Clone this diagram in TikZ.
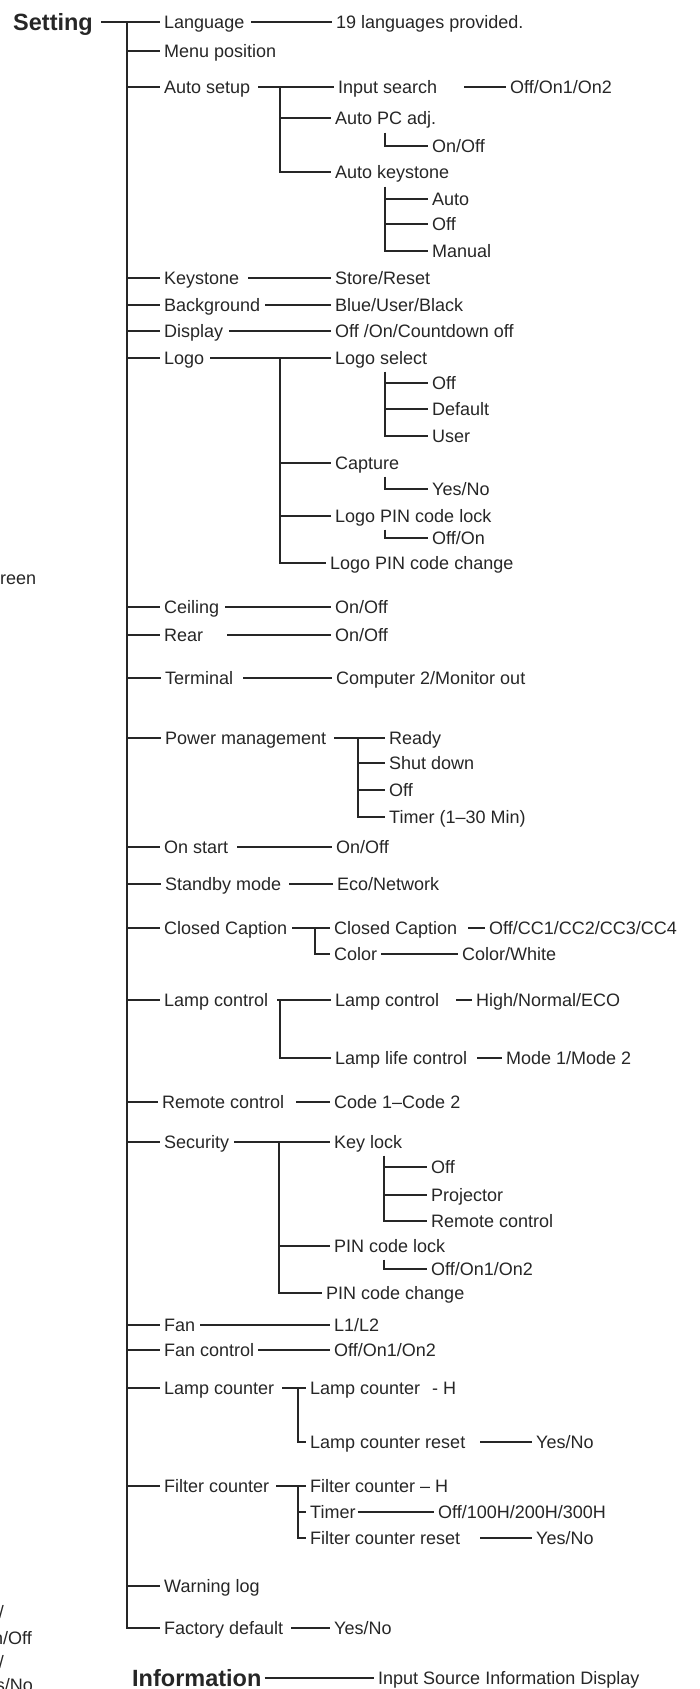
\documentclass[tikz,border=0pt]{standalone}
\usepackage{fontspec}
\setmainfont{Liberation Sans}
\usetikzlibrary{positioning, calc}

\begin{document}
\begin{tikzpicture}[
    x=1pt, y=-1pt,
    font=\fontsize{18}{20}\selectfont,
    color=black!85,
    item/.style={anchor=west, inner xsep=0pt, inner ysep=0pt, text height=12.9pt, text depth=0pt},
    head/.style={item, font=\fontsize{23.5}{26}\selectfont\bfseries, text height=16.8pt},
    cut/.style={anchor=east, inner sep=0pt, text height=12.9pt, text depth=0pt},
    line/.style={draw=black!85, line width=1.1pt, shorten >=4pt}
]
\useasboundingbox (0,0) rectangle (700,1689);

% Setting (root)
\node[head] (set) at (13,22) {Setting};
\coordinate (trunk) at (127,22);

% Language / Menu position
\node[item] (lang) at (164,22) {Language};
\node[item] (langv) at (336,22) {19 languages provided.};
\node[item] (menu) at (164,51) {Menu position};

% Auto setup
\node[item] (auto) at (164,87) {Auto setup};
\node[item] (insrch) at (338,87) {Input search};
\node[item] (insrchv) at (510,87) {Off/On1/On2};
\node[item] (apc) at (335,118) {Auto PC adj.};
\node[item] (apcv) at (432,146) {On/Off};
\node[item] (aks) at (335,172) {Auto keystone};
\node[item] (aksa) at (432,199) {Auto};
\node[item] (akso) at (432,224) {Off};
\node[item] (aksm) at (432,251) {Manual};

% Keystone .. Display
\node[item] (key) at (164,278) {Keystone};
\node[item] (keyv) at (335,278) {Store/Reset};
\node[item] (bg) at (164,305) {Background};
\node[item] (bgv) at (335,305) {Blue/User/Black};
\node[item] (disp) at (164,331) {Display};
\node[item] (dispv) at (335,331) {Off /On/Countdown off};

% Logo
\node[item] (logo) at (164,358) {Logo};
\node[item] (lsel) at (335,358) {Logo select};
\node[item] (lselo) at (432,383) {Off};
\node[item] (lseld) at (432,409) {Default};
\node[item] (lselu) at (432,436) {User};
\node[item] (cap) at (335,463) {Capture};
\node[item] (capv) at (432,489) {Yes/No};
\node[item] (lpin) at (335,516) {Logo PIN code lock};
\node[item] (lpinv) at (432,538) {Off/On};
\node[item] (lpinc) at (330,563) {Logo PIN code change};

% Ceiling .. Terminal
\node[item] (ceil) at (164,607) {Ceiling};
\node[item] (ceilv) at (335,607) {On/Off};
\node[item] (rear) at (164,635) {Rear};
\node[item] (rearv) at (335,635) {On/Off};
\node[item] (term) at (165,678) {Terminal};
\node[item] (termv) at (336,678) {Computer 2/Monitor out};

% Power management
\node[item] (pwr) at (165,738) {Power management};
\node[item] (pwra) at (389,738) {Ready};
\node[item] (pwrb) at (389,763) {Shut down};
\node[item] (pwrc) at (389,790) {Off};
\node[item] (pwrd) at (389,817) {Timer (1–30 Min)};

% On start / Standby mode
\node[item] (onst) at (164,847) {On start};
\node[item] (onstv) at (336,847) {On/Off};
\node[item] (stby) at (165,884) {Standby mode};
\node[item] (stbyv) at (337,884) {Eco/Network};

% Closed Caption
\node[item] (cc) at (164,928) {Closed Caption};
\node[item] (ccs) at (334,928) {Closed Caption};
\node[item] (ccsv) at (489,928) {Off/CC1/CC2/CC3/CC4};
\node[item] (ccc) at (334,954) {Color};
\node[item] (cccv) at (462,954) {Color/White};

% Lamp control
\node[item] (lamp) at (164,1000) {Lamp control};
\node[item] (lamps) at (335,1000) {Lamp control};
\node[item] (lampsv) at (476,1000) {High/Normal/ECO};
\node[item] (lampl) at (335,1058) {Lamp life control};
\node[item] (lamplv) at (506,1058) {Mode 1/Mode 2};

% Remote control
\node[item] (rem) at (162,1102) {Remote control};
\node[item] (remv) at (334,1102) {Code 1–Code 2};

% Security
\node[item] (sec) at (164,1142) {Security};
\node[item] (klock) at (334,1142) {Key lock};
\node[item] (klocka) at (431,1167) {Off};
\node[item] (klockb) at (431,1195) {Projector};
\node[item] (klockc) at (431,1221) {Remote control};
\node[item] (pin) at (334,1246) {PIN code lock};
\node[item] (pinv) at (431,1269) {Off/On1/On2};
\node[item] (pinc) at (326,1293) {PIN code change};

% Fan
\node[item] (fan) at (164,1325) {Fan};
\node[item] (fanv) at (334,1325) {L1/L2};
\node[item] (fanc) at (164,1350) {Fan control};
\node[item] (fancv) at (334,1350) {Off/On1/On2};

% Lamp counter
\node[item] (lcnt) at (164,1388) {Lamp counter};
\node[item] (lcnth) at (310,1388) {Lamp counter\hspace{12pt}- H};
\node[item] (lcntr) at (310,1442) {Lamp counter reset};
\node[item] (lcntrv) at (536,1442) {Yes/No};

% Filter counter
\node[item] (fcnt) at (164,1486) {Filter counter};
\node[item] (fcnth) at (310,1486) {Filter counter – H};
\node[item] (ftmr) at (310,1512) {Timer};
\node[item] (ftmrv) at (438,1512) {Off/100H/200H/300H};
\node[item] (fcntr) at (310,1538) {Filter counter reset};
\node[item] (fcntrv) at (536,1538) {Yes/No};

% Warning log / Factory default
\node[item] (warn) at (164,1586) {Warning log};
\node[item] (fact) at (164,1628) {Factory default};
\node[item] (factv) at (334,1628) {Yes/No};

% Information
\node[head] (info) at (132,1678) {Information};
\node[item] (infov) at (378,1678) {Input Source Information Display};

% cut-off text of the next column
\node[item] (frag1) at (0,578) {reen};
\node[cut] (frag2) at (4,1612) {/};
\node[cut] (frag3) at (32,1638) {n/Off};
\node[cut] (frag4) at (4,1662) {/};
\node[cut] (frag5) at (33,1685) {s/No};

% Main trunk
\draw[line] ([xshift=8]set.east) -- (lang.west);
\draw[line] (trunk) |- (fact.west);
\foreach \n in {menu, auto, key, bg, disp, logo, ceil, rear, term, pwr, onst,
                stby, cc, lamp, rem, sec, fan, fanc, lcnt, fcnt, warn}
  \draw[line] (trunk |- \n.west) -- (\n.west);

% Sub-trunks
\coordinate (autot) at (280,87);
\coordinate (logot) at (280,358);
\coordinate (pwrt) at (358,738);
\coordinate (cct) at (315,928);
\coordinate (lampt) at (280,1000);
\coordinate (sect) at (279,1142);
\coordinate (lcntt) at (298,1388);
\coordinate (fcntt) at (298,1486);

% Hooks below an item
\coordinate (aksv) at ([xshift=50,yshift=-8]aks.south west);
\coordinate (lselv) at ([xshift=50,yshift=-7]lsel.south west);
\coordinate (klockv) at ([xshift=50,yshift=-7]klock.south west);

% Language
\draw[line] ([xshift=7]lang.east) -- (langv.west);

% Auto setup
\draw[line] ([xshift=8]auto.east) -- (insrch.west);
\draw[line] (autot) |- (aks.west);
\draw[line] (autot |- apc.west) -- (apc.west);
\draw[line] ([xshift=27]insrch.east) -- (insrchv.west);
\draw[line] ([xshift=50,yshift=-8]apc.south west) |- (apcv.west);
\draw[line] (aksv) |- (aksm.west);
\foreach \n in {aksa, akso}
  \draw[line] (aksv |- \n.west) -- (\n.west);

% Keystone .. Display
\draw[line] ([xshift=9]key.east) -- (keyv.west);
\draw[line] ([xshift=5]bg.east) -- (bgv.west);
\draw[line] ([xshift=6]disp.east) -- (dispv.west);

% Logo
\draw[line] ([xshift=6]logo.east) -- (lsel.west);
\draw[line] (logot) |- (lpinc.west);
\foreach \n in {cap, lpin}
  \draw[line] (logot |- \n.west) -- (\n.west);
\draw[line] (lselv) |- (lselu.west);
\foreach \n in {lselo, lseld}
  \draw[line] (lselv |- \n.west) -- (\n.west);
\draw[line] ([xshift=50,yshift=-7]cap.south west) |- (capv.west);
\draw[line] ([xshift=50,yshift=-7]lpin.south west) |- (lpinv.west);

% Ceiling .. Terminal
\draw[line] ([xshift=6]ceil.east) -- (ceilv.west);
\draw[line] ([xshift=24]rear.east) -- (rearv.west);
\draw[line] ([xshift=10]term.east) -- (termv.west);

% Power management
\draw[line] ([xshift=8]pwr.east) -- (pwra.west);
\draw[line] (pwrt) |- (pwrd.west);
\foreach \n in {pwrb, pwrc}
  \draw[line] (pwrt |- \n.west) -- (\n.west);

% On start / Standby mode
\draw[line] ([xshift=9]onst.east) -- (onstv.west);
\draw[line] ([xshift=8]stby.east) -- (stbyv.west);

% Closed Caption
\draw[line] ([xshift=5]cc.east) -- (ccs.west);
\draw[line] (cct) |- (ccc.west);
\draw[line] ([xshift=11]ccs.east) -- (ccsv.west);
\draw[line] ([xshift=4]ccc.east) -- (cccv.west);

% Lamp control
\draw[line] ([xshift=9]lamp.east) -- (lamps.west);
\draw[line] (lampt) |- (lampl.west);
\draw[line] ([xshift=17]lamps.east) -- (lampsv.west);
\draw[line] ([xshift=10]lampl.east) -- (lamplv.west);

% Remote control
\draw[line] ([xshift=12]rem.east) -- (remv.west);

% Security
\draw[line] ([xshift=5]sec.east) -- (klock.west);
\draw[line] (sect) |- (pinc.west);
\draw[line] (sect |- pin.west) -- (pin.west);
\draw[line] (klockv) |- (klockc.west);
\foreach \n in {klocka, klockb}
  \draw[line] (klockv |- \n.west) -- (\n.west);
\draw[line] ([xshift=50,yshift=-7]pin.south west) |- (pinv.west);

% Fan
\draw[line] ([xshift=5]fan.east) -- (fanv.west);
\draw[line] ([xshift=4]fanc.east) -- (fancv.west);

% Lamp counter
\draw[line] ([xshift=8]lcnt.east) -- (lcnth.west);
\draw[line] (lcntt) |- (lcntr.west);
\draw[line] ([xshift=15]lcntr.east) -- (lcntrv.west);

% Filter counter
\draw[line] ([xshift=7]fcnt.east) -- (fcnth.west);
\draw[line] (fcntt) |- (fcntr.west);
\draw[line] (fcntt |- ftmr.west) -- (ftmr.west);
\draw[line] ([xshift=2]ftmr.east) -- (ftmrv.west);
\draw[line] ([xshift=20]fcntr.east) -- (fcntrv.west);

% Factory default / Information
\draw[line] ([xshift=8]fact.east) -- (factv.west);
\draw[line] ([xshift=3]info.east) -- (infov.west);

\end{tikzpicture}
\end{document}
